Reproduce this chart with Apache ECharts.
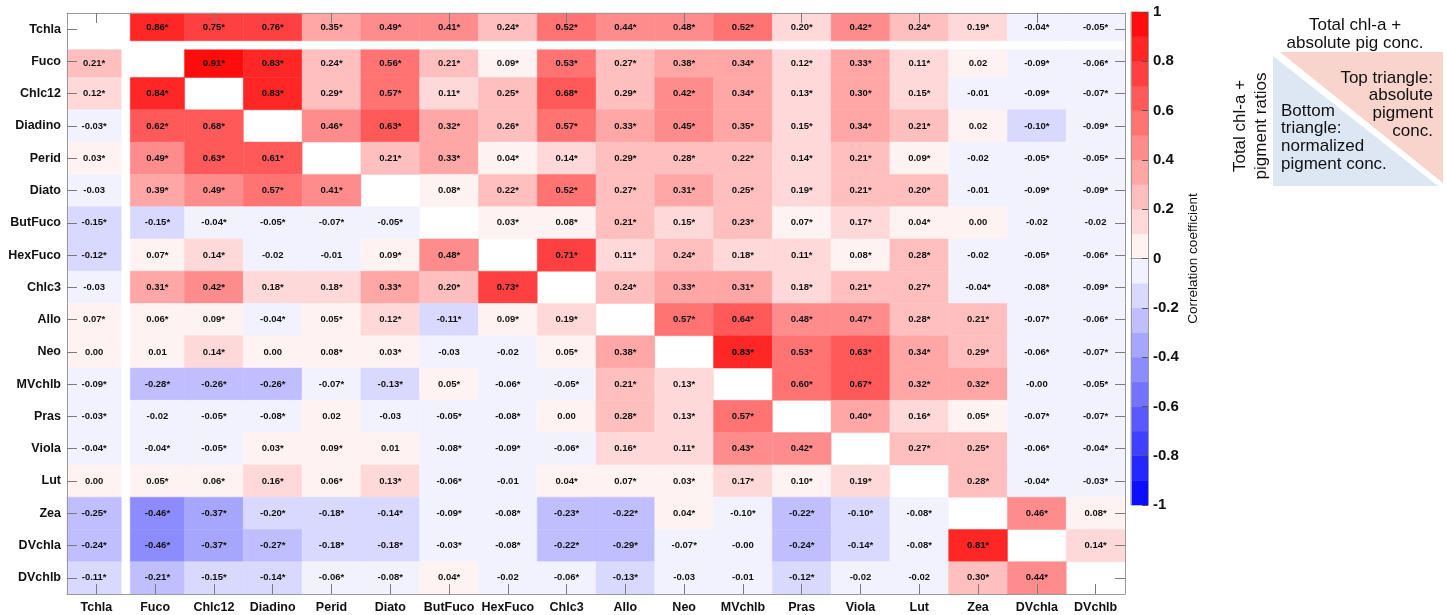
<!DOCTYPE html>
<html>
<head>
<meta charset="utf-8">
<script src="https://cdn.jsdelivr.net/npm/echarts@6/dist/echarts.min.js"></script>
<style>
  html, body { margin: 0; padding: 0; background: #fff; }
  #chart { width: 1447px; height: 615px; }
</style>
</head>
<body>
<div id="chart"></div>
<script>
// Pigment names, used for both axes (row order = column order)
const pigments = ['Tchla', 'Fuco', 'Chlc12', 'Diadino', 'Perid', 'Diato', 'ButFuco', 'HexFuco',
  'Chlc3', 'Allo', 'Neo', 'MVchlb', 'Pras', 'Viola', 'Lut', 'Zea', 'DVchla', 'DVchlb'];

// Correlation coefficients, one array per row (null on the diagonal)
const rowTchla   = [null, 0.86, 0.75, 0.76, 0.35, 0.49, 0.41, 0.24, 0.52, 0.44, 0.48, 0.52, 0.198, 0.42, 0.24, 0.19, -0.04, -0.05];
const rowFuco    = [0.21, null, 0.91, 0.83, 0.24, 0.56, 0.21, 0.09, 0.53, 0.27, 0.38, 0.34, 0.12, 0.33, 0.11, 0.02, -0.09, -0.06];
const rowChlc12  = [0.12, 0.84, null, 0.83, 0.29, 0.57, 0.11, 0.25, 0.68, 0.29, 0.42, 0.34, 0.13, 0.302, 0.15, -0.01, -0.09, -0.07];
const rowDiadino = [-0.03, 0.62, 0.68, null, 0.46, 0.63, 0.32, 0.26, 0.57, 0.33, 0.45, 0.35, 0.15, 0.34, 0.21, 0.02, -0.102, -0.09];
const rowPerid   = [0.03, 0.49, 0.63, 0.61, null, 0.21, 0.33, 0.04, 0.14, 0.29, 0.28, 0.22, 0.14, 0.21, 0.09, -0.02, -0.05, -0.05];
const rowDiato   = [-0.03, 0.39, 0.49, 0.57, 0.41, null, 0.08, 0.22, 0.52, 0.27, 0.31, 0.25, 0.19, 0.21, 0.202, -0.01, -0.09, -0.09];
const rowButFuco = [-0.15, -0.15, -0.04, -0.05, -0.07, -0.05, null, 0.03, 0.08, 0.21, 0.15, 0.23, 0.07, 0.17, 0.04, 0.001, -0.02, -0.02];
const rowHexFuco = [-0.12, 0.07, 0.14, -0.02, -0.01, 0.09, 0.48, null, 0.71, 0.11, 0.24, 0.18, 0.11, 0.08, 0.28, -0.02, -0.05, -0.06];
const rowChlc3   = [-0.03, 0.31, 0.42, 0.18, 0.18, 0.33, 0.201, 0.73, null, 0.24, 0.33, 0.31, 0.18, 0.21, 0.27, -0.04, -0.08, -0.09];
const rowAllo    = [0.07, 0.06, 0.09, -0.04, 0.05, 0.12, -0.11, 0.09, 0.19, null, 0.57, 0.64, 0.48, 0.47, 0.28, 0.21, -0.07, -0.06];
const rowNeo     = [0.001, 0.01, 0.14, 0.001, 0.08, 0.03, -0.03, -0.02, 0.05, 0.38, null, 0.83, 0.53, 0.63, 0.34, 0.29, -0.06, -0.07];
const rowMVchlb  = [-0.09, -0.28, -0.26, -0.26, -0.07, -0.13, 0.05, -0.06, -0.05, 0.21, 0.13, null, 0.598, 0.67, 0.32, 0.32, -0.001, -0.05];
const rowPras    = [-0.03, -0.02, -0.05, -0.08, 0.02, -0.03, -0.05, -0.08, 0.001, 0.28, 0.13, 0.57, null, 0.398, 0.16, 0.05, -0.07, -0.07];
const rowViola   = [-0.04, -0.04, -0.05, 0.03, 0.09, 0.01, -0.08, -0.09, -0.06, 0.16, 0.11, 0.43, 0.42, null, 0.27, 0.25, -0.06, -0.04];
const rowLut     = [0.001, 0.05, 0.06, 0.16, 0.06, 0.13, -0.06, -0.01, 0.04, 0.07, 0.03, 0.17, 0.098, 0.19, null, 0.28, -0.04, -0.03];
const rowZea     = [-0.25, -0.46, -0.37, -0.198, -0.18, -0.14, -0.09, -0.08, -0.23, -0.22, 0.04, -0.098, -0.22, -0.102, -0.08, null, 0.46, 0.08];
const rowDVchla  = [-0.24, -0.46, -0.37, -0.27, -0.18, -0.18, -0.03, -0.08, -0.22, -0.29, -0.07, -0.001, -0.24, -0.14, -0.08, 0.81, null, 0.14];
const rowDVchlb  = [-0.11, -0.21, -0.15, -0.14, -0.06, -0.08, 0.04, -0.02, -0.06, -0.13, -0.03, -0.01, -0.12, -0.02, -0.02, 0.298, 0.44, null];

const matrixRows = [rowTchla, rowFuco, rowChlc12, rowDiadino, rowPerid, rowDiato, rowButFuco, rowHexFuco,
  rowChlc3, rowAllo, rowNeo, rowMVchlb, rowPras, rowViola, rowLut, rowZea, rowDVchla, rowDVchlb];

// [row, column] of coefficients that are not significant (no asterisk)
const notSignificant = [[1, 15], [2, 15], [3, 15], [4, 15], [5, 0], [5, 15], [6, 15], [6, 16], [6, 17],
  [7, 3], [7, 4], [7, 15], [8, 0], [10, 0], [10, 1], [10, 3], [10, 6], [10, 7], [11, 16],
  [12, 1], [12, 4], [12, 5], [12, 8], [13, 5], [14, 0], [14, 7], [16, 11],
  [17, 7], [17, 10], [17, 11], [17, 13], [17, 14]];

// Colour scale ticks
const scaleTicks = { min: -1, max: 1, step: 0.2 };

// ---- build the series data ----
const FONT = '"Liberation Sans", Arial, Helvetica, sans-serif';
const nsSet = new Set(notSignificant.map(p => p[0] + ',' + p[1]));
const fmt = v => (v < 0 ? '-' : '') + Math.abs(v).toFixed(2);

const cellData = [];
const cellLabels = [];
matrixRows.forEach((row, r) => {
  row.forEach((v, c) => {
    if (v === null) return;
    cellData.push([c, r, v]);
    cellLabels.push(fmt(v) + (nsSet.has(r + ',' + c) ? '' : '*'));
  });
});

// 20 colour bins of width 0.1, white -> red above zero, white -> blue below
function binColor(k) {
  const m = k >= 0 ? k : -k - 1;
  const c = Math.round(255 * (1 - (m + 0.5) / 10));
  return k >= 0 ? `rgb(255,${c},${c})` : `rgb(${c},${c},255)`;
}
const pieces = [];
const barData = [];
for (let k = -10; k <= 9; k++) {
  const p = { gte: k / 10, color: binColor(k) };
  if (k === 9) p.lte = 1; else p.lt = (k + 1) / 10;
  pieces.push(p);
  barData.push([0, k / 10, (k + 0.5) / 10, (k + 1) / 10]);
}

const GAP = 4.5; // white separator around the Tchla row and column
const axisGrey = '#9a9a9a';
const tickGrey = '#7a7a7a';

function renderCell(params, api) {
  const xi = api.value(0), yi = api.value(1);
  const c = api.coord([xi, yi]);
  const s = api.size([1, 1]);
  let x0 = c[0] - s[0] / 2, x1 = c[0] + s[0] / 2;
  let y0 = c[1] - s[1] / 2, y1 = c[1] + s[1] / 2;
  if (xi === 0) x1 -= GAP;
  if (xi === 1) x0 += GAP;
  if (yi === 0) y1 -= GAP;
  if (yi === 1) y0 += GAP;
  const color = api.visual('color');
  return {
    type: 'group',
    children: [{
      type: 'rect',
      shape: { x: x0, y: y0, width: x1 - x0, height: y1 - y0 },
      style: { fill: color, stroke: color, lineWidth: 0.5 }
    }, {
      type: 'text',
      style: {
        text: cellLabels[params.dataIndex],
        x: (x0 + x1) / 2, y: (y0 + y1) / 2,
        align: 'center', verticalAlign: 'middle',
        textAlign: 'center', textVerticalAlign: 'middle',
        font: 'bold 9.5px ' + FONT,
        fill: '#111'
      }
    }]
  };
}

function renderBin(params, api) {
  const lo = api.coord([0, api.value(1)]);
  const hi = api.coord([0, api.value(3)]);
  const w = api.size([1, 0])[0];
  const color = api.visual('color');
  return {
    type: 'rect',
    shape: { x: lo[0] - w / 2, y: hi[1], width: w, height: lo[1] - hi[1] },
    style: { fill: color, stroke: color, lineWidth: 0.6 }
  };
}

const catAxisBase = {
  type: 'category', data: pigments, gridIndex: 0, z: 10,
  axisLine: { show: true, lineStyle: { color: axisGrey, width: 1 } },
  axisTick: { show: true, inside: true, length: 10, alignWithLabel: true, lineStyle: { color: tickGrey } },
  splitLine: { show: false }
};
const labelStyle = { fontFamily: FONT, fontWeight: 'bold', fontSize: 12.5, color: '#111' };

const chart = echarts.init(document.getElementById('chart'), null, { renderer: 'canvas' });
chart.setOption({
  animation: false,
  backgroundColor: '#fff',
  grid: [
    { left: 67, top: 13, width: 1058, height: 581 },
    { left: 1131, top: 12, width: 17, height: 493 }
  ],
  xAxis: [
    Object.assign({}, catAxisBase, { position: 'bottom', axisLabel: Object.assign({ margin: 7, interval: 0 }, labelStyle) }),
    Object.assign({}, catAxisBase, { position: 'top', axisLabel: { show: false } }),
    { type: 'category', data: [''], gridIndex: 1, position: 'bottom', z: 10,
      axisLine: { show: true, lineStyle: { color: axisGrey } }, axisTick: { show: false }, axisLabel: { show: false } },
    { type: 'category', data: [''], gridIndex: 1, position: 'top', z: 10,
      axisLine: { show: true, lineStyle: { color: axisGrey } }, axisTick: { show: false }, axisLabel: { show: false } }
  ],
  yAxis: [
    Object.assign({}, catAxisBase, { position: 'left', inverse: true, axisLabel: Object.assign({ margin: 6, interval: 0 }, labelStyle) }),
    Object.assign({}, catAxisBase, { position: 'right', inverse: true, axisLabel: { show: false } }),
    { type: 'value', gridIndex: 1, position: 'right', z: 10,
      min: scaleTicks.min, max: scaleTicks.max, interval: scaleTicks.step,
      axisLine: { show: true, lineStyle: { color: axisGrey } },
      axisTick: { show: true, inside: true, length: 6, lineStyle: { color: '#555' } },
      axisLabel: { margin: 5, fontFamily: FONT, fontWeight: 'bold', fontSize: 15, color: '#111' },
      splitLine: { show: false },
      name: 'Correlation coefficient', nameLocation: 'middle', nameRotate: 90, nameGap: 38,
      nameTextStyle: { fontFamily: FONT, fontSize: 13.5, color: '#111' } },
    { type: 'value', gridIndex: 1, position: 'left', z: 10,
      min: scaleTicks.min, max: scaleTicks.max, interval: scaleTicks.step,
      axisLine: { show: true, lineStyle: { color: axisGrey } },
      axisTick: { show: false }, axisLabel: { show: false }, splitLine: { show: false } }
  ],
  visualMap: {
    type: 'piecewise', show: false, dimension: 2, seriesIndex: [0, 1], pieces: pieces
  },
  series: [
    { type: 'custom', name: 'correlation', xAxisIndex: 0, yAxisIndex: 0,
      renderItem: renderCell, data: cellData, encode: { x: 0, y: 1 } },
    { type: 'custom', name: 'scale', xAxisIndex: 2, yAxisIndex: 2,
      renderItem: renderBin, data: barData, encode: { x: 0, y: [1, 3] } }
  ],
  graphic: [
    { type: 'text', x: 1355, y: 34, style: {
        text: 'Total chl-a +\nabsolute pig conc.', font: '17px ' + FONT, fill: '#111',
        align: 'center', verticalAlign: 'middle', lineHeight: 18 } },
    { type: 'polygon', shape: { points: [[1280, 52], [1443, 52], [1443, 183]] },
      style: { fill: '#f9d4cd' } },
    { type: 'polygon', shape: { points: [[1273, 56], [1273, 186], [1438, 186]] },
      style: { fill: '#dde7f4' } },
    { type: 'text', x: 1433, y: 104.5, style: {
        text: 'Top triangle:\nabsolute\npigment\nconc.', font: '17px ' + FONT, fill: '#111',
        align: 'right', verticalAlign: 'middle', lineHeight: 17.7 } },
    { type: 'text', x: 1281, y: 137.5, style: {
        text: 'Bottom\ntriangle:\nnormalized\npigment conc.', font: '17px ' + FONT, fill: '#111',
        align: 'left', verticalAlign: 'middle', lineHeight: 17.7 } },
    { type: 'text', x: 1251, y: 126, rotation: Math.PI / 2, style: {
        text: 'Total chl-a +\npigment ratios', font: '17px ' + FONT, fill: '#111',
        align: 'center', verticalAlign: 'middle', lineHeight: 21 } }
  ]
});
</script>
</body>
</html>
